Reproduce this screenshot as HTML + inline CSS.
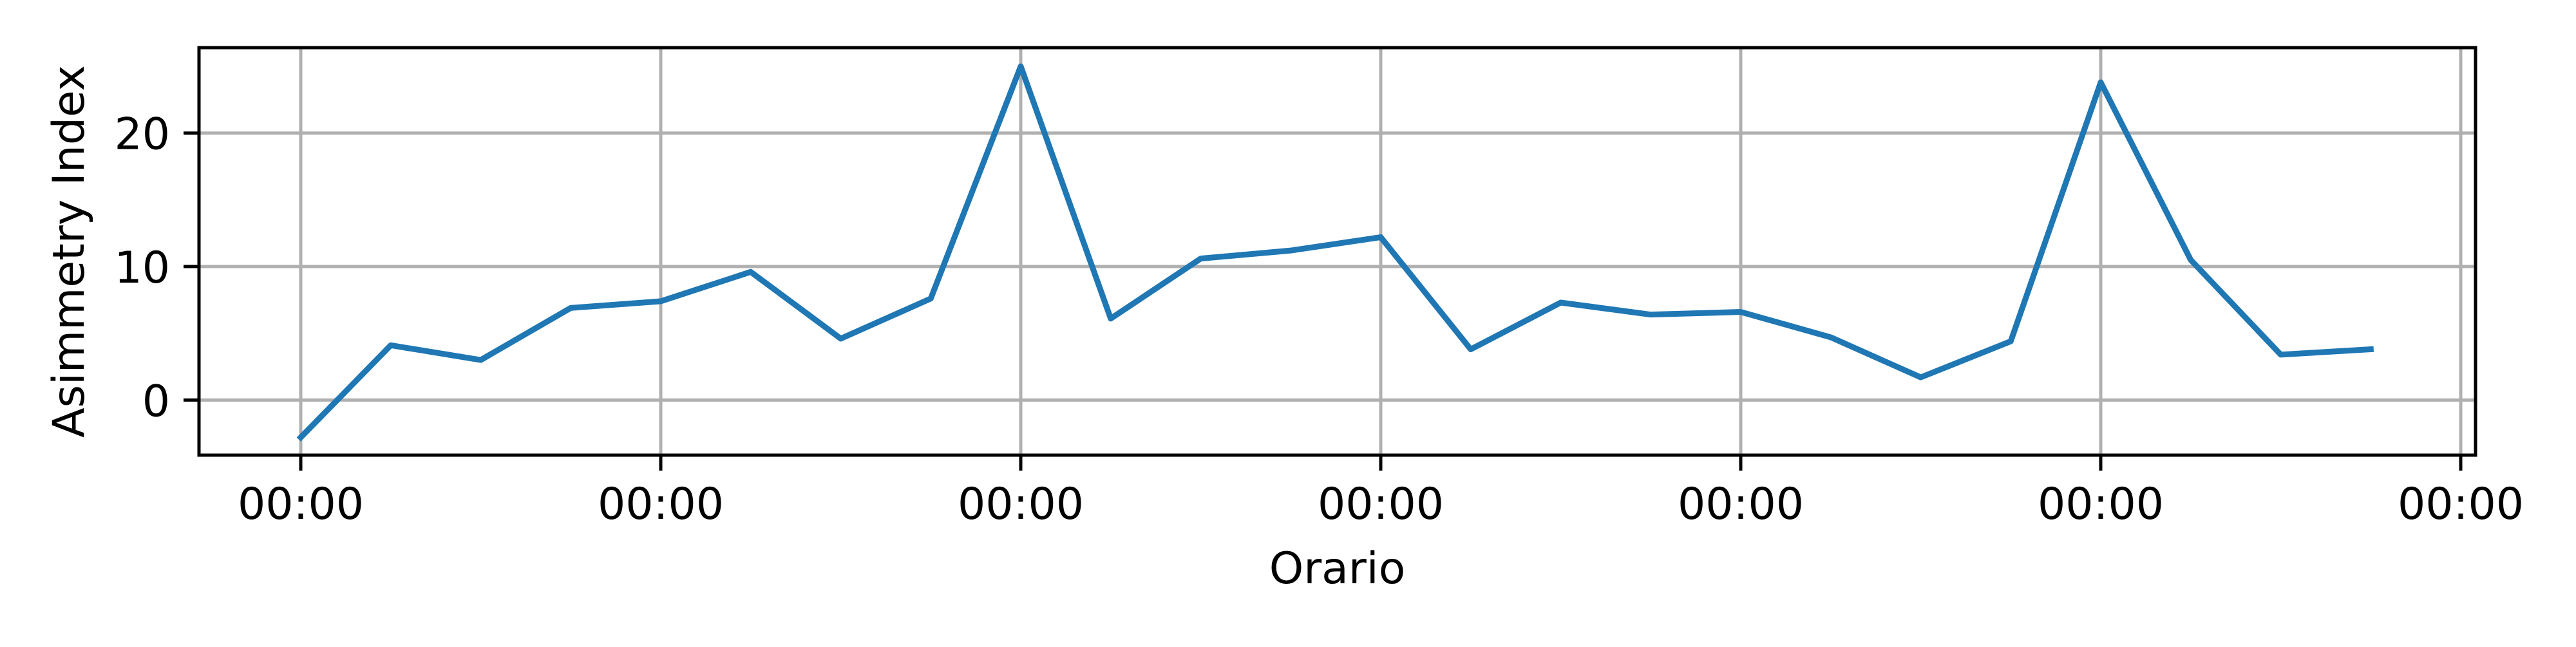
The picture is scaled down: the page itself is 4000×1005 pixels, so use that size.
<!DOCTYPE html>
<html><head><meta charset="utf-8"><style>body{margin:0;background:#fff}svg text{font-family:"DejaVu Sans","Liberation Sans",sans-serif;fill:#000}</style></head>
<body>
<svg width="4000" height="1000" xmlns="http://www.w3.org/2000/svg">
<g id="g"></g>
</svg>
<script>
const values=[-2.8,4.1,3.0,6.9,7.4,9.6,4.6,7.6,25.0,6.1,10.6,11.2,12.2,3.8,7.3,6.4,6.6,4.7,1.7,4.4,23.8,10.5,3.4,3.8];
const yTicks=[0,10,20];
const xTickLabels=["00:00","00:00","00:00","00:00","00:00","00:00","00:00"];
const L=309,R=3844,T=74,B=707;
const ymin=-4.13,ymax=26.4;
const y=v=>B-(v-ymin)/(ymax-ymin)*(B-T);
const x0=467,step=559;
const xT=i=>x0+i*step;
const xP=i=>x0+i*step/4;
const g=document.getElementById('g');
const NS='http://www.w3.org/2000/svg';
function mk(t,a,p){const e=document.createElementNS(NS,t);for(const k in a)e.setAttribute(k,a[k]);(p||g).appendChild(e);return e;}
xTickLabels.forEach((lab,i)=>{const X=xT(i);
 const gl=mk('line',{x1:X,x2:X,y1:T,y2:B,stroke:'#b0b0b0','stroke-width':5});
 
 
 const tk=mk('line',{x1:X,x2:X,y1:B,y2:B+24,stroke:'#000','stroke-width':5});
 
 
 const t=mk('text',{x:X,y:806,'font-size':68,'text-anchor':'middle'});t.textContent=lab;
 
 
});
yTicks.forEach(v=>{const Y=y(v);
 const gl=mk('line',{x1:L,x2:R,y1:Y,y2:Y,stroke:'#b0b0b0','stroke-width':5});
 
 
 const tk=mk('line',{x1:L-24,x2:L,y1:Y,y2:Y,stroke:'#000','stroke-width':5});
 
 
 const t=mk('text',{x:L-45,y:Y+25,'font-size':68,'text-anchor':'end'});t.textContent=v;
 
 
});
const pts=values.map((v,i)=>xP(i)+','+y(v)).join(' ');
const pl=mk('polyline',{points:pts,fill:'none',stroke:'#1f77b4','stroke-width':9,'stroke-linejoin':'round','stroke-linecap':'square'});


const fr=mk('rect',{x:L,y:T,width:R-L,height:B-T,fill:'none',stroke:'#000','stroke-width':5});


const xl=mk('text',{x:(L+R)/2,y:906,'font-size':68,'text-anchor':'middle'});xl.textContent='Orario';


const yl=mk('text',{x:0,y:0,'font-size':68,'text-anchor':'middle',transform:'translate(130,'+((T+B)/2)+') rotate(-90)'});yl.textContent='Asimmetry Index';


</script>
</body></html>
